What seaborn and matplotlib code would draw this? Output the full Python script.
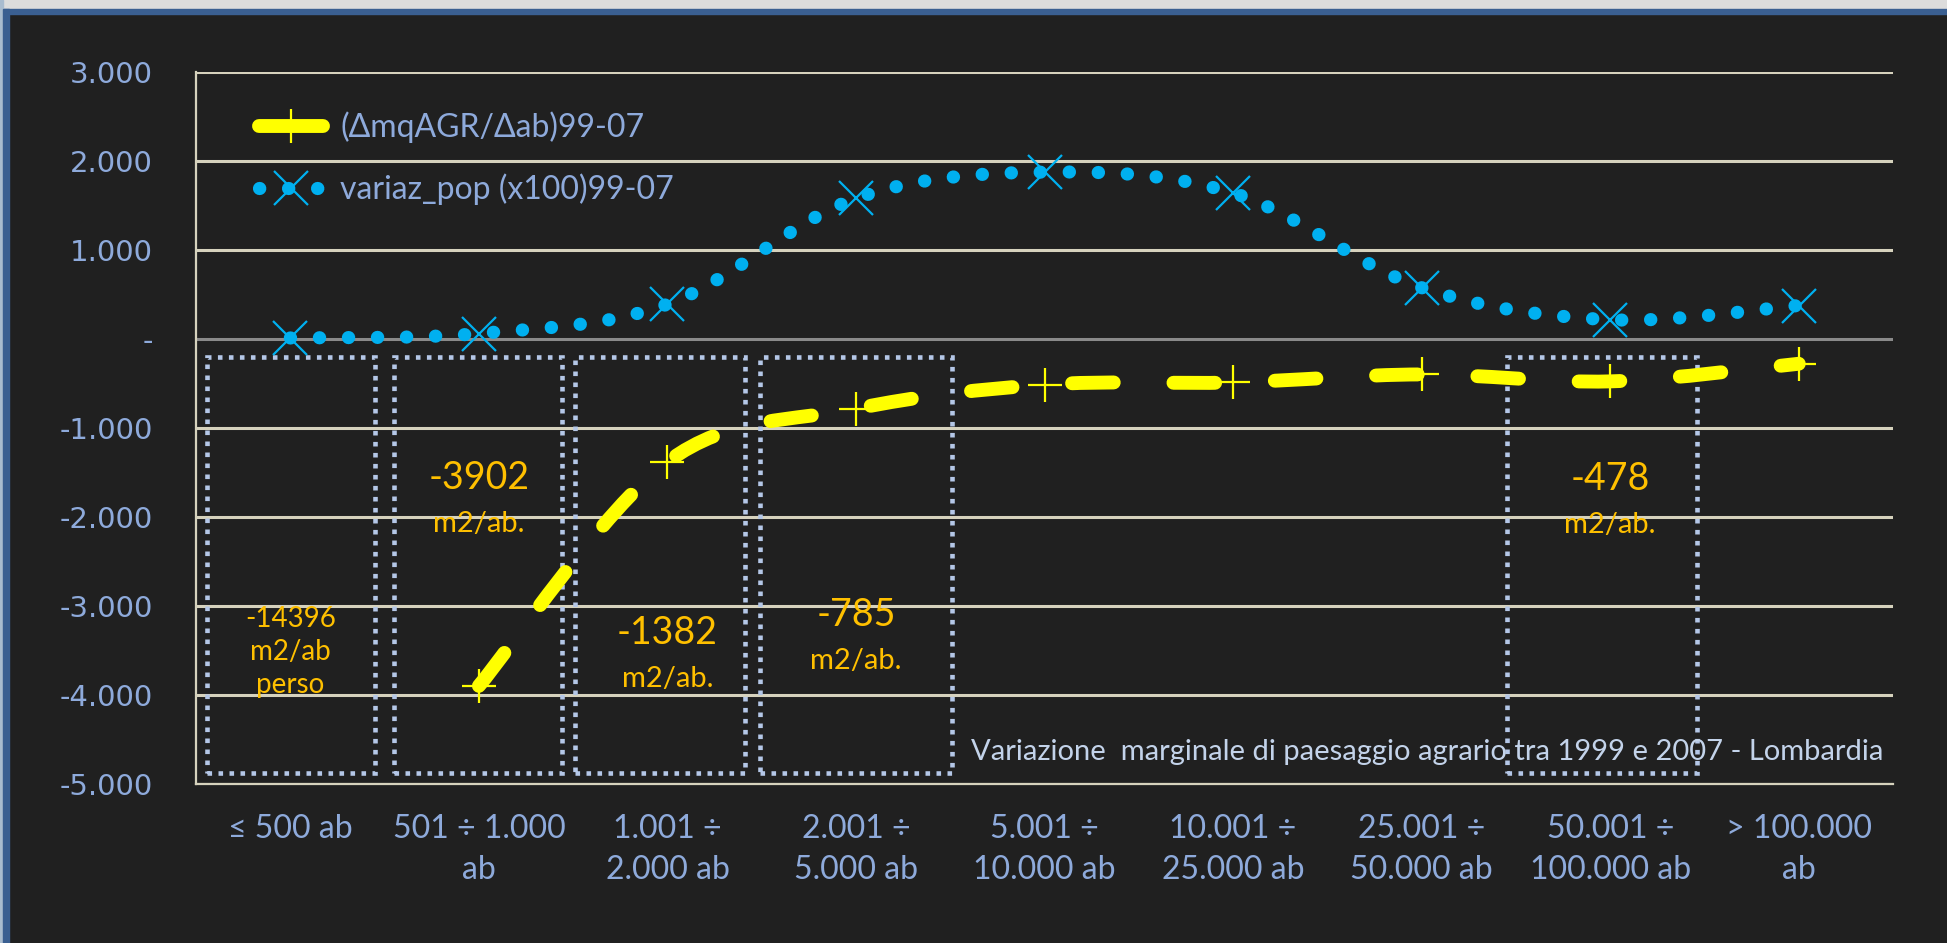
import numpy as np
import pandas as pd
import seaborn as sns
import matplotlib.pyplot as plt
from matplotlib.path import Path
from matplotlib.patches import PathPatch, Rectangle
from matplotlib.lines import Line2D

# Data
categories = ['≤ 500 ab', '501 ÷ 1.000\nab', '1.001 ÷\n2.000 ab', '2.001 ÷\n5.000 ab',
              '5.001 ÷\n10.000 ab', '10.001 ÷\n25.000 ab', '25.001 ÷\n50.000 ab',
              '50.001 ÷\n100.000 ab', '> 100.000\nab']
agr_change = [np.nan, -3902, -1382, -785, -515, -490, -400, -478, -280]
pop_change = [10, 60, 390, 1580, 1875, 1640, 575, 215, 375]
y_ticks = [3000, 2000, 1000, 0, -1000, -2000, -3000, -4000, -5000]
y_tick_labels = ['3.000', '2.000', '1.000', '-', '-1.000', '-2.000', '-3.000', '-4.000', '-5.000']

# boxed annotations: category, big value, unit text
box_cats = [0, 1, 2, 3, 7]
box_values = ['-14396\nm2/ab\nperso', '-3902', '-1382', '-785', '-478']
box_units = ['', 'm2/ab.', 'm2/ab.', 'm2/ab.', 'm2/ab.']

BG = '#202020'
TXT = '#8eaadb'
GRID = '#d6d2bd'
YELLOW = '#ffff00'
BLUE = '#00b0f0'
GOLD = '#ffc000'
BOXC = '#b4c7e7'

sns.set_theme(style='dark')
plt.rcParams['font.family'] = ['Lato', 'DejaVu Sans']

data = pd.DataFrame({'pos': np.arange(len(categories)),
                     'agr': agr_change, 'pop': pop_change})

fig = plt.figure(figsize=(19.47, 9.43), dpi=100, facecolor=BG)
ax = fig.add_axes([0.1007, 0.1691, 0.8716, 0.7545])
ax.set_facecolor(BG)


def smooth_path(xs, ys):
    # Excel-like smoothed line (Catmull-Rom as cubic Bezier)
    pts = np.column_stack([xs, ys])
    verts = [pts[0]]
    codes = [Path.MOVETO]
    n = len(pts)
    for i in range(n - 1):
        p0 = pts[max(i - 1, 0)]
        p1 = pts[i]
        p2 = pts[i + 1]
        p3 = pts[min(i + 2, n - 1)]
        verts += [p1 + (p2 - p0) / 6, p2 - (p3 - p1) / 6, p2]
        codes += [Path.CURVE4] * 3
    return Path(verts, codes)


DOTS = (0, (0.02, 2.18))

# grid lines
for t in y_ticks:
    ax.axhline(t, color='#8a8a8a' if t == 0 else GRID, lw=2.2, zorder=1)

# dotted boxes (left/right edge offsets from the category centre)
box_edges = {0: (-0.44, 0.45), 1: (-0.45, 0.44), 2: (-0.49, 0.41),
             3: (-0.51, 0.51), 7: (-0.55, 0.46)}
for c in box_cats:
    lo, hi = box_edges[c]
    ax.add_patch(Rectangle((c + lo, -4880), hi - lo, 4680, fill=False,
                           edgecolor=BOXC, lw=3.3, linestyle=(0, (1, 1.4)), zorder=2))

# smoothed lines
d_agr = data.dropna()
agr_patch = PathPatch(smooth_path(d_agr['pos'].values, d_agr['agr'].values), fill=False,
                      edgecolor=YELLOW, lw=10, linestyle=(0, (3.0, 4.3)),
                      capstyle='round', zorder=4)
ax.add_patch(agr_patch)
pop_patch = PathPatch(smooth_path(data['pos'].values, data['pop'].values), fill=False,
                      edgecolor=BLUE, lw=9.5, linestyle=DOTS,
                      capstyle='round', zorder=4)
ax.add_patch(pop_patch)

# markers
sns.lineplot(data=data, x='pos', y='agr', marker='+', markersize=25, markeredgewidth=1.6,
             markeredgecolor=YELLOW, linestyle='none', color=YELLOW, ax=ax, zorder=5,
             legend=False)
sns.lineplot(data=data, x='pos', y='pop', marker='x', markersize=24, markeredgewidth=1.6,
             markeredgecolor=BLUE, linestyle='none', color=BLUE, ax=ax, zorder=5,
             legend=False)

# annotations
for c, v, u in zip(box_cats, box_values, box_units):
    if u:
        ytop = {1: -1563, 2: -3307, 3: -3105, 7: -1575}[c]
        ax.text(c, ytop, v, color=GOLD, fontsize=27, ha='center', va='center', zorder=6)
        ax.text(c, ytop - 520, u, color=GOLD, fontsize=21, ha='center', va='center', zorder=6)
    else:
        ax.text(c, -3521, v, color=GOLD, fontsize=20, ha='center', va='center',
                linespacing=1.35, zorder=6)

ax.text(8.45, -4650, 'Variazione  marginale di paesaggio agrario tra 1999 e 2007 - Lombardia',
        color='#c3d3ea', fontsize=21, ha='right', va='center', zorder=6)

# legend
h1 = Line2D([], [], color=YELLOW, lw=10, solid_capstyle='round', marker='+',
            markersize=25, markeredgewidth=1.6)
h2 = Line2D([], [], color=BLUE, lw=9.5, linestyle=DOTS, dash_capstyle='round',
            marker='x', markersize=24, markeredgewidth=1.6)
leg = ax.legend([h1, h2], ['(ΔmqAGR/Δab)99-07', 'variaz_pop (x100)99-07'],
                loc='upper left', bbox_to_anchor=(0.02, 0.985), frameon=False,
                fontsize=23, handlelength=2.0, handletextpad=0.55, labelspacing=0.95)
for t in leg.get_texts():
    t.set_color(TXT)

# axes
ax.set_xlim(-0.5, 8.5)
ax.set_ylim(-5000, 3000)
ax.set_xticks(range(len(categories)))
ax.set_xticklabels(categories, color=TXT, fontsize=23, linespacing=1.45, ha='center')
ax.set_yticks(y_ticks)
ax.set_yticklabels(y_tick_labels, color=TXT, fontsize=21, family='DejaVu Sans')
ax.tick_params(axis='y', length=0, pad=31)
ax.tick_params(axis='x', length=0, pad=22)
ax.set_xlabel('')
ax.set_ylabel('')
ax.grid(False)
for s in ['top', 'right']:
    ax.spines[s].set_visible(False)
for s in ['left', 'bottom']:
    ax.spines[s].set_color(GRID)
    ax.spines[s].set_linewidth(1.6)

# screenshot frame
fig.add_artist(Rectangle((0, 1 - 9 / 943), 1, 9 / 943, transform=fig.transFigure,
                         color='#dcdcdc', zorder=10))
fig.add_artist(Rectangle((0, 1 - 14 / 943), 1, 5 / 943, transform=fig.transFigure,
                         color='#3a5f91', zorder=10))
fig.add_artist(Rectangle((0, 0), 3 / 1947, 1, transform=fig.transFigure,
                         color='#a9bccf', zorder=10))
fig.add_artist(Rectangle((3 / 1947, 0), 6 / 1947, 1 - 9 / 943, transform=fig.transFigure,
                         color='#3a5f91', zorder=10))

fig.savefig('out.png', dpi=100, facecolor=BG)
